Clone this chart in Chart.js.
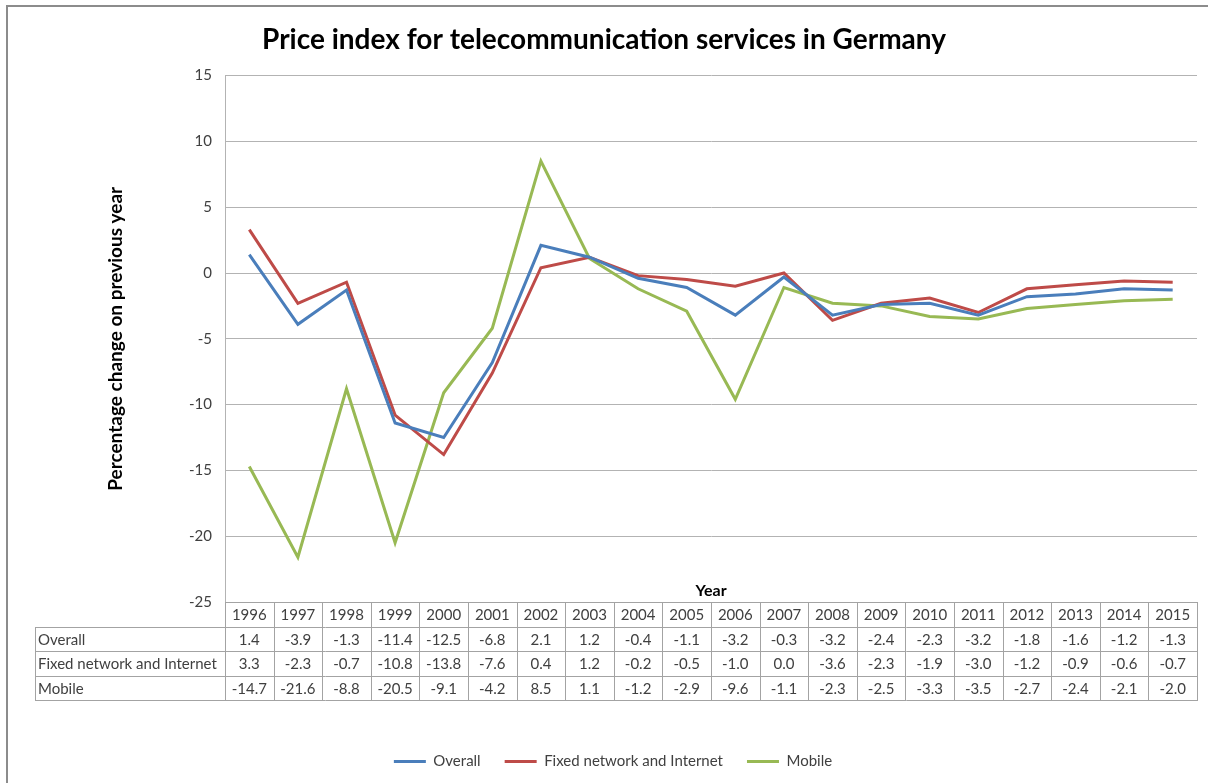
<!DOCTYPE html>
<html>
<head>
<meta charset="utf-8">
<script src="https://cdn.jsdelivr.net/npm/chart.js@4.4.1/dist/chart.umd.min.js"></script>
<style>
  html, body { margin: 0; padding: 0; background: #fff; overflow: hidden; }
</style>
</head>
<body>
<canvas id="chart" width="1208" height="783"></canvas>
<script>
// data
const years = ['1996', '1997', '1998', '1999', '2000', '2001', '2002', '2003', '2004', '2005',
               '2006', '2007', '2008', '2009', '2010', '2011', '2012', '2013', '2014', '2015'];
const overall = [1.4, -3.9, -1.3, -11.4, -12.5, -6.8, 2.1, 1.2, -0.4, -1.1,
                 -3.2, -0.3, -3.2, -2.4, -2.3, -3.2, -1.8, -1.6, -1.2, -1.3];
const fixedNet = [3.3, -2.3, -0.7, -10.8, -13.8, -7.6, 0.4, 1.2, -0.2, -0.5,
                  -1.0, 0.0, -3.6, -2.3, -1.9, -3.0, -1.2, -0.9, -0.6, -0.7];
const mobile = [-14.7, -21.6, -8.8, -20.5, -9.1, -4.2, 8.5, 1.1, -1.2, -2.9,
                -9.6, -1.1, -2.3, -2.5, -3.3, -3.5, -2.7, -2.4, -2.1, -2.0];
const seriesNames = ['Overall', 'Fixed network and Internet', 'Mobile'];
const yTicks = [15, 10, 5, 0, -5, -10, -15, -20, -25];

const FONT = 'Lato, "Open Sans", sans-serif';
const TEXT = '#404040';

// outer frame of the chart object
const framePlugin = {
  id: 'frame',
  beforeDraw(chart) {
    const ctx = chart.ctx;
    ctx.save();
    ctx.fillStyle = '#fff';
    ctx.fillRect(0, 0, chart.width, chart.height);
    ctx.strokeStyle = '#8c8c8c';
    ctx.lineWidth = 2;
    ctx.strokeRect(7, 6, chart.width + 20, chart.height + 20);
    ctx.restore();
  }
};

// nudge the legend up and a bit to the right
const legendShift = {
  id: 'legendShift',
  afterLayout(chart) {
    chart.legend.top -= 4;
    chart.legend.bottom -= 4;
    chart.legend.left += 9;
    chart.legend.right += 9;
  }
};

// excel-like data table under the plot
const tablePlugin = {
  id: 'dataTable',
  afterDraw(chart) {
    const { ctx, chartArea } = chart;
    const x = chart.scales.x;
    const colW = x.width / years.length;
    const rowH = 24.5;
    const top = chartArea.bottom;
    const labelLeft = 35;
    const rows = [[seriesNames[0], overall], [seriesNames[1], fixedNet], [seriesNames[2], mobile]];

    ctx.save();
    ctx.strokeStyle = '#a3a3a3';
    ctx.lineWidth = 1;
    ctx.beginPath();
    ctx.moveTo(x.left, Math.round(top) + 0.5);
    ctx.lineTo(x.right, Math.round(top) + 0.5);
    for (let k = 1; k <= 4; k++) {
      const yy = Math.round(top + rowH * k) + 0.5;
      ctx.moveTo(labelLeft, yy);
      ctx.lineTo(x.right, yy);
    }
    ctx.moveTo(labelLeft + 0.5, Math.round(top + rowH));
    ctx.lineTo(labelLeft + 0.5, Math.round(top + rowH * 4) + 1);
    for (let i = 0; i <= years.length; i++) {
      const xx = Math.round(x.left + i * colW) + 0.5;
      ctx.moveTo(xx, Math.round(top));
      ctx.lineTo(xx, Math.round(top + rowH * 4) + 1);
    }
    ctx.stroke();

    ctx.fillStyle = TEXT;
    ctx.font = '15px ' + FONT;
    ctx.textBaseline = 'middle';
    ctx.textAlign = 'center';
    years.forEach((yr, i) => {
      ctx.fillText(yr, x.getPixelForValue(i), top + rowH / 2 + 1);
    });
    rows.forEach(([name, vals], r) => {
      const cy = top + rowH * (r + 1) + rowH / 2 + 1;
      ctx.textAlign = 'left';
      ctx.fillText(name, labelLeft + 3, cy);
      ctx.textAlign = 'center';
      vals.forEach((v, i) => ctx.fillText(v.toFixed(1), x.getPixelForValue(i), cy));
    });

    ctx.fillStyle = '#000';
    ctx.font = 'bold 16px ' + FONT;
    ctx.textAlign = 'center';
    ctx.fillText('Year', (chartArea.left + chartArea.right) / 2, top - 11);
    ctx.restore();
  }
};

function line(label, data, color) {
  return {
    label: label,
    data: data,
    borderColor: color,
    backgroundColor: color,
    borderWidth: 3,
    pointRadius: 0,
    tension: 0
  };
}

new Chart(document.getElementById('chart'), {
  type: 'line',
  data: {
    labels: years,
    datasets: [
      line(seriesNames[0], overall, '#4a7ebb'),
      line(seriesNames[1], fixedNet, '#be4b48'),
      line(seriesNames[2], mobile, '#98b954')
    ]
  },
  options: {
    responsive: false,
    animation: false,
    layout: { padding: { left: 11, right: 11, top: 0, bottom: 0 } },
    plugins: {
      title: {
        display: true,
        text: 'Price index for telecommunication services in Germany',
        color: '#000',
        font: { family: FONT, size: 28, weight: 'bold' },
        padding: { top: 23, bottom: 19 }
      },
      legend: {
        position: 'bottom',
        labels: {
          color: TEXT,
          font: { family: FONT, size: 15 },
          boxWidth: 32,
          boxHeight: 3,
          padding: 24,
          generateLabels: (chart) =>
            Chart.defaults.plugins.legend.labels.generateLabels(chart).map(l => ({ ...l, lineWidth: 0 }))
        }
      },
      tooltip: { enabled: false }
    },
    scales: {
      x: {
        type: 'category',
        offset: true,
        grid: { display: false },
        border: { display: false },
        ticks: { display: false },
        afterFit: (s) => { s.height = 132; }
      },
      y: {
        min: -25,
        max: 15,
        afterBuildTicks: (s) => { s.ticks = yTicks.map(v => ({ value: v })); },
        grid: { color: '#b3b3b3', drawTicks: false },
        border: { display: true, color: '#b3b3b3' },
        ticks: { color: TEXT, font: { family: FONT, size: 15 }, padding: 13 },
        title: {
          display: true,
          text: 'Percentage change on previous year',
          color: '#000',
          font: { family: FONT, size: 19, weight: 'bold' },
          padding: { top: 93, bottom: 0 }
        },
        afterFit: (s) => { s.width = 214; }
      }
    }
  },
  plugins: [framePlugin, legendShift, tablePlugin]
});
</script>
</body>
</html>
